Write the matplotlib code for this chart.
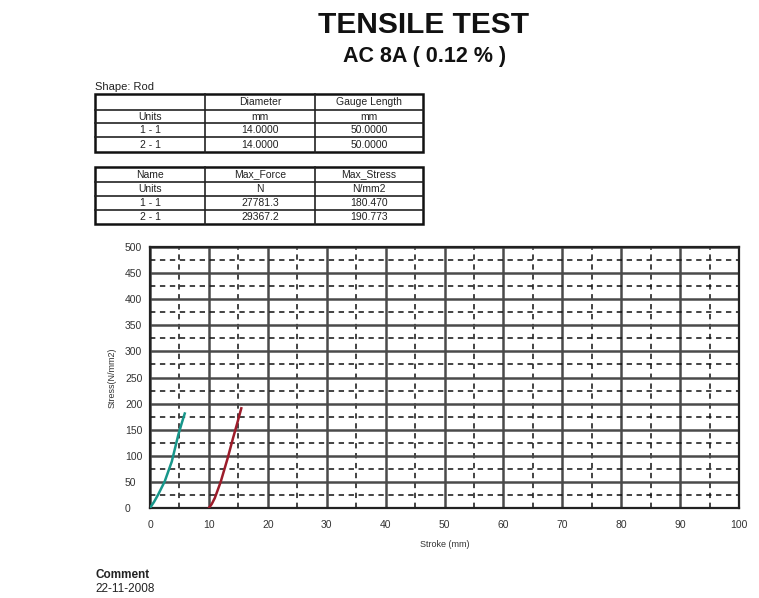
import matplotlib
matplotlib.use('Agg')
import matplotlib.pyplot as plt
from matplotlib.ticker import MultipleLocator

plt.rcParams['font.family'] = ['Liberation Sans', 'DejaVu Sans']

# --- data ---
SPEC_NAMES = ['1 - 1', '2 - 1']
DIAMETER = ['14.0000', '14.0000']
GAUGE_LENGTH = ['50.0000', '50.0000']
MAX_FORCE = ['27781.3', '29367.2']
MAX_STRESS = ['180.470', '190.773']

stroke_1 = [0.0, 0.7, 1.4, 2.5, 3.7, 4.8, 5.4, 5.9]
stress_1 = [0, 12, 26, 51, 89, 140, 163, 181]
stroke_2 = [10.0, 10.5, 11.0, 12.0, 13.2, 14.1, 14.8, 15.5]
stress_2 = [0, 8, 19, 50, 96, 134, 162, 191]

W, H = 759, 598
fig = plt.figure(figsize=(W / 100, H / 100), dpi=100)

# overlay in pixel coords for title, tables, footer
ov = fig.add_axes([0, 0, 1, 1])
ov.set_xlim(0, W)
ov.set_ylim(H, 0)
ov.axis('off')

ov.text(424, 33, 'TENSILE TEST', ha='center', va='baseline', fontsize=21.5,
        fontweight='bold', color='#111111')
ov.text(425, 62, 'AC 8A ( 0.12 % )', ha='center', va='baseline', fontsize=15.5,
        fontweight='bold', color='#111111')
ov.text(95, 90, 'Shape: Rod', ha='left', va='baseline', fontsize=8, color='#222222')

col_x = [95, 205, 315, 423]


def draw_table(top_rows, rows_y):
    x0, x1 = col_x[0], col_x[-1]
    y0, y1 = rows_y[0], rows_y[-1]
    for y in rows_y[1:-1]:
        ov.plot([x0, x1], [y, y], color='#222222', lw=1.2)
    for x in col_x[1:-1]:
        ov.plot([x, x], [y0, y1], color='#222222', lw=1.2)
    ov.add_patch(plt.Rectangle((x0, y0), x1 - x0, y1 - y0, fill=False,
                               edgecolor='#111111', lw=1.8))
    for r, row in enumerate(top_rows):
        yc = (rows_y[r] + rows_y[r + 1]) / 2
        for c, txt in enumerate(row):
            xc = (col_x[c] + col_x[c + 1]) / 2
            ov.text(xc, yc, txt, ha='center', va='center', fontsize=7.5,
                    color='#222222')


table1 = [['', 'Diameter', 'Gauge Length'], ['Units', 'mm', 'mm']]
for n, d, g in zip(SPEC_NAMES, DIAMETER, GAUGE_LENGTH):
    table1.append([n, d, g])
draw_table(table1, [94, 110, 123, 137, 152])

table2 = [['Name', 'Max_Force', 'Max_Stress'], ['Units', 'N', 'N/mm2']]
for n, f, s in zip(SPEC_NAMES, MAX_FORCE, MAX_STRESS):
    table2.append([n, f, s])
draw_table(table2, [167, 182, 196, 210, 224])

ov.text(95, 578, 'Comment', ha='left', va='baseline', fontsize=8.5,
        fontweight='bold', color='#222222')
ov.text(95, 592, '22-11-2008', ha='left', va='baseline', fontsize=8.5,
        color='#222222')

# --- stress-stroke chart ---
ax = fig.add_axes([150 / W, 1 - 508 / H, (739 - 150) / W, (508 - 247) / H])
ax.set_xlim(0, 100)
ax.set_ylim(0, 500)
ax.xaxis.set_major_locator(MultipleLocator(10))
ax.xaxis.set_minor_locator(MultipleLocator(5))
ax.yaxis.set_major_locator(MultipleLocator(50))
ax.yaxis.set_minor_locator(MultipleLocator(25))
ax.grid(which='major', color='#4a4a4a', linewidth=1.8, linestyle='-')
ax.grid(which='minor', color='#111111', linewidth=1.1, linestyle=(0, (3.5, 3)))
ax.set_axisbelow(True)
ax.tick_params(which='both', length=0, labelsize=7.5, colors='#333333')
ax.tick_params(axis='x', pad=9)
ax.tick_params(axis='y', pad=18)
for lbl in ax.get_yticklabels():
    lbl.set_horizontalalignment('left')
for s in ax.spines.values():
    s.set_color('#222222')
    s.set_linewidth(1.6)

ax.plot(stroke_1, stress_1, color='#17968a', lw=1.8, zorder=3)
ax.plot(stroke_2, stress_2, color='#9c1c2a', lw=1.8, zorder=3)

ax.set_xlabel('Stroke (mm)', fontsize=6.5, color='#333333', labelpad=7)
ax.set_ylabel('Stress(N/mm2)', fontsize=6.5, color='#333333', labelpad=6)

fig.savefig('out.png', dpi=100)
